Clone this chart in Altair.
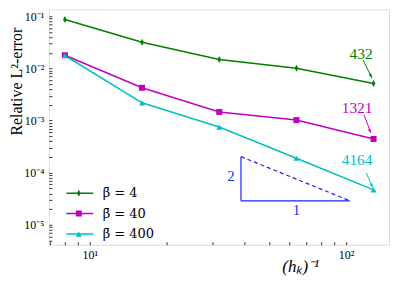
import altair as alt
import pandas as pd

# ---- data ----
h_inv = [8, 16, 32, 64, 128]
err_beta4 = [0.087, 0.0318, 0.0148, 0.0101, 0.00515]
err_beta40 = [0.0179, 0.00425, 0.00146, 0.00102, 0.000443]
err_beta400 = [0.0177, 0.00219, 0.00075, 0.000189, 0.0000467]
series_labels = ["β̄ = 4", "β̄ = 40", "β̄ = 400"]
series_keys = ["k4", "k40", "k400"]
series_colors = ["#008000", "#bf00bf", "#00bfbf"]
marker_shapes = ["M0,-1.15L0.62,0L0,1.15L-0.62,0Z", "square", "triangle-up"]

ann_text = ["432", "1321", "4164"]
ann_x = [114.4, 110.4, 110.4]
ann_y = [0.01875, 0.001734, 0.000173]
arrow_x1 = [116.5, 117.5, 119.7]
arrow_y1 = [0.01439, 0.001274, 0.0000988]
arrow_x2 = [126.2, 125.0, 127.3]
arrow_y2 = [0.0065, 0.000577, 0.000051]

tri_x1 = [38.9, 38.9, 38.9]
tri_y1 = [2.03e-4, 2.88e-5, 2.03e-4]
tri_x2 = [38.9, 103.4, 103.4]
tri_y2 = [2.88e-5, 2.88e-5, 2.88e-5]
tri_dashed = [False, False, True]
slope_text = ["2", "1"]
slope_x = [35.6, 64.1]
slope_y = [8.67e-5, 1.88e-5]

x_domain = [6.93, 147.0]
y_domain = [4.14e-6, 0.136]
x_ticks = [7, 8, 9, 10, 20, 30, 40, 50, 60, 70, 80, 90, 100]
y_ticks = [m * 10.0 ** e for e in range(-6, 0) for m in range(1, 10)
           if y_domain[0] <= m * 10.0 ** e <= y_domain[1]]

# ---- tables ----
rows = []
for lab, key, vals in zip(series_labels, series_keys, [err_beta4, err_beta40, err_beta400]):
    for xv, yv in zip(h_inv, vals):
        rows.append({"series": lab, "key": key, "h": xv, "err": yv})
df = pd.DataFrame(rows)
ann = pd.DataFrame({"t": ann_text, "x": ann_x, "y": ann_y, "c": series_colors})
arr = pd.DataFrame({"x": arrow_x1, "y": arrow_y1, "x2": arrow_x2, "y2": arrow_y2, "c": series_colors})
tri = pd.DataFrame({"x": tri_x1, "y": tri_y1, "x2": tri_x2, "y2": tri_y2, "dashed": tri_dashed})
slope = pd.DataFrame({"t": slope_text, "x": slope_x, "y": slope_y})

FONT = "Liberation Serif"
xs = alt.Scale(type="log", domain=x_domain, nice=False)
ys = alt.Scale(type="log", domain=y_domain, nice=False)

xaxis = alt.Axis(
    values=x_ticks,
    labelExpr="datum.value == 10 ? '10¹' : (datum.value == 100 ? '10²' : '')",
    tickSize=3, offset=-3, domain=False, grid=False, tickColor="#333",
    labelFont=FONT, labelFontSize=12, labelColor="black", labelPadding=5,
    labelOverlap=False, labelFlush=False,
    title="(hₖ)⁻¹", titleFont=FONT, titleFontSize=17, titleFontWeight="normal",
    titleFontStyle="italic", titleColor="black", titleX=252, titleY=25,
    titleAlign="center", titleBaseline="middle",
)
yaxis = alt.Axis(
    values=y_ticks,
    labelExpr="abs(log(datum.value)/LN10 - round(log(datum.value)/LN10)) < 0.001 ? "
              "'10' + ['⁻⁶','⁻⁵','⁻⁴','⁻³','⁻²','⁻¹'][round(log(datum.value)/LN10) + 6] : ''",
    tickSize=3, offset=-3, domain=False, grid=False, tickColor="#333",
    labelFont=FONT, labelFontSize=12, labelColor="black", labelPadding=5,
    labelOverlap=False, labelFlush=False,
    title="Relative L²-error", titleFont=FONT, titleFontSize=16, titleFontWeight="normal",
    titleColor="black", titleAngle=270, titleAlign="center", titleBaseline="middle",
    titleX=-35.5, titleY=72,
)

X = lambda f: alt.X(f, type="quantitative", scale=xs, axis=xaxis)
Y = lambda f: alt.Y(f, type="quantitative", scale=ys, axis=yaxis)

lines = alt.Chart(df).mark_line(strokeWidth=1.5).encode(
    x=X("h"), y=Y("err"),
    color=alt.Color("series:N", scale=alt.Scale(domain=series_labels, range=series_colors),
                    legend=alt.Legend(orient="none", legendX=16.5, legendY=176.8, title=None,
                                      direction="vertical", symbolType="stroke", symbolSize=729,
                                      symbolStrokeWidth=1.5, labelFont="DejaVu Serif",
                                      labelFontSize=13, labelColor="black", rowPadding=5.5,
                                      padding=0, labelOffset=8.5, clipHeight=15)),
    order=alt.Order("h:Q"),
)
pt_legend = alt.Legend(orient="none", legendX=23.5, legendY=176.8, title=None,
                       direction="vertical", symbolSize=36, symbolStrokeWidth=0,
                       labelFontSize=13, labelExpr="''", rowPadding=5.5, padding=0,
                       clipHeight=15)
points = alt.Chart(df).mark_point(filled=True, size=36, opacity=1).encode(
    x=X("h"), y=Y("err"),
    fill=alt.Fill("key:N", scale=alt.Scale(domain=series_keys, range=series_colors),
                  legend=pt_legend),
    shape=alt.Shape("key:N", scale=alt.Scale(domain=series_keys, range=marker_shapes),
                    legend=pt_legend),
)
ann_txt = alt.Chart(ann).mark_text(font=FONT, fontSize=15.5, align="center", baseline="middle").encode(
    x=X("x"), y=Y("y"), text="t:N", color=alt.Color("c:N", scale=None),
)
ann_line = alt.Chart(arr).mark_rule(strokeWidth=1).encode(
    x=X("x"), y=Y("y"), x2="x2", y2="y2", color=alt.Color("c:N", scale=None),
)
ann_head = alt.Chart(arr).mark_point(filled=True, size=16, opacity=1, angle=334,
                                     shape="M0,0L-0.7,-2.2L0.7,-2.2Z").encode(
    x=X("x2"), y=Y("y2"), color=alt.Color("c:N", scale=None),
)
tri_solid = alt.Chart(tri).transform_filter("!datum.dashed").mark_rule(
    color="#1f1fff", strokeWidth=1.2).encode(x=X("x"), y=Y("y"), x2="x2", y2="y2")
tri_dash = alt.Chart(tri).transform_filter("datum.dashed").mark_rule(
    color="#1f1fff", strokeWidth=1.2, strokeDash=[4, 3]).encode(x=X("x"), y=Y("y"), x2="x2", y2="y2")
slope_txt = alt.Chart(slope).mark_text(font=FONT, fontSize=15, color="#1f1fff",
                                       align="center", baseline="middle").encode(
    x=X("x"), y=Y("y"), text="t:N")

chart = alt.layer(
    lines, points, tri_solid, tri_dash, slope_txt, ann_line, ann_head, ann_txt
).properties(
    width=341, height=236,
    autosize=alt.AutoSizeParams(type="none"),
    padding={"left": 41, "top": 1, "right": 2, "bottom": 32},
).configure_view(stroke="#333", strokeWidth=1).configure(background="white")

chart.save("out.html", embed_options={"renderer": "svg", "actions": False})
